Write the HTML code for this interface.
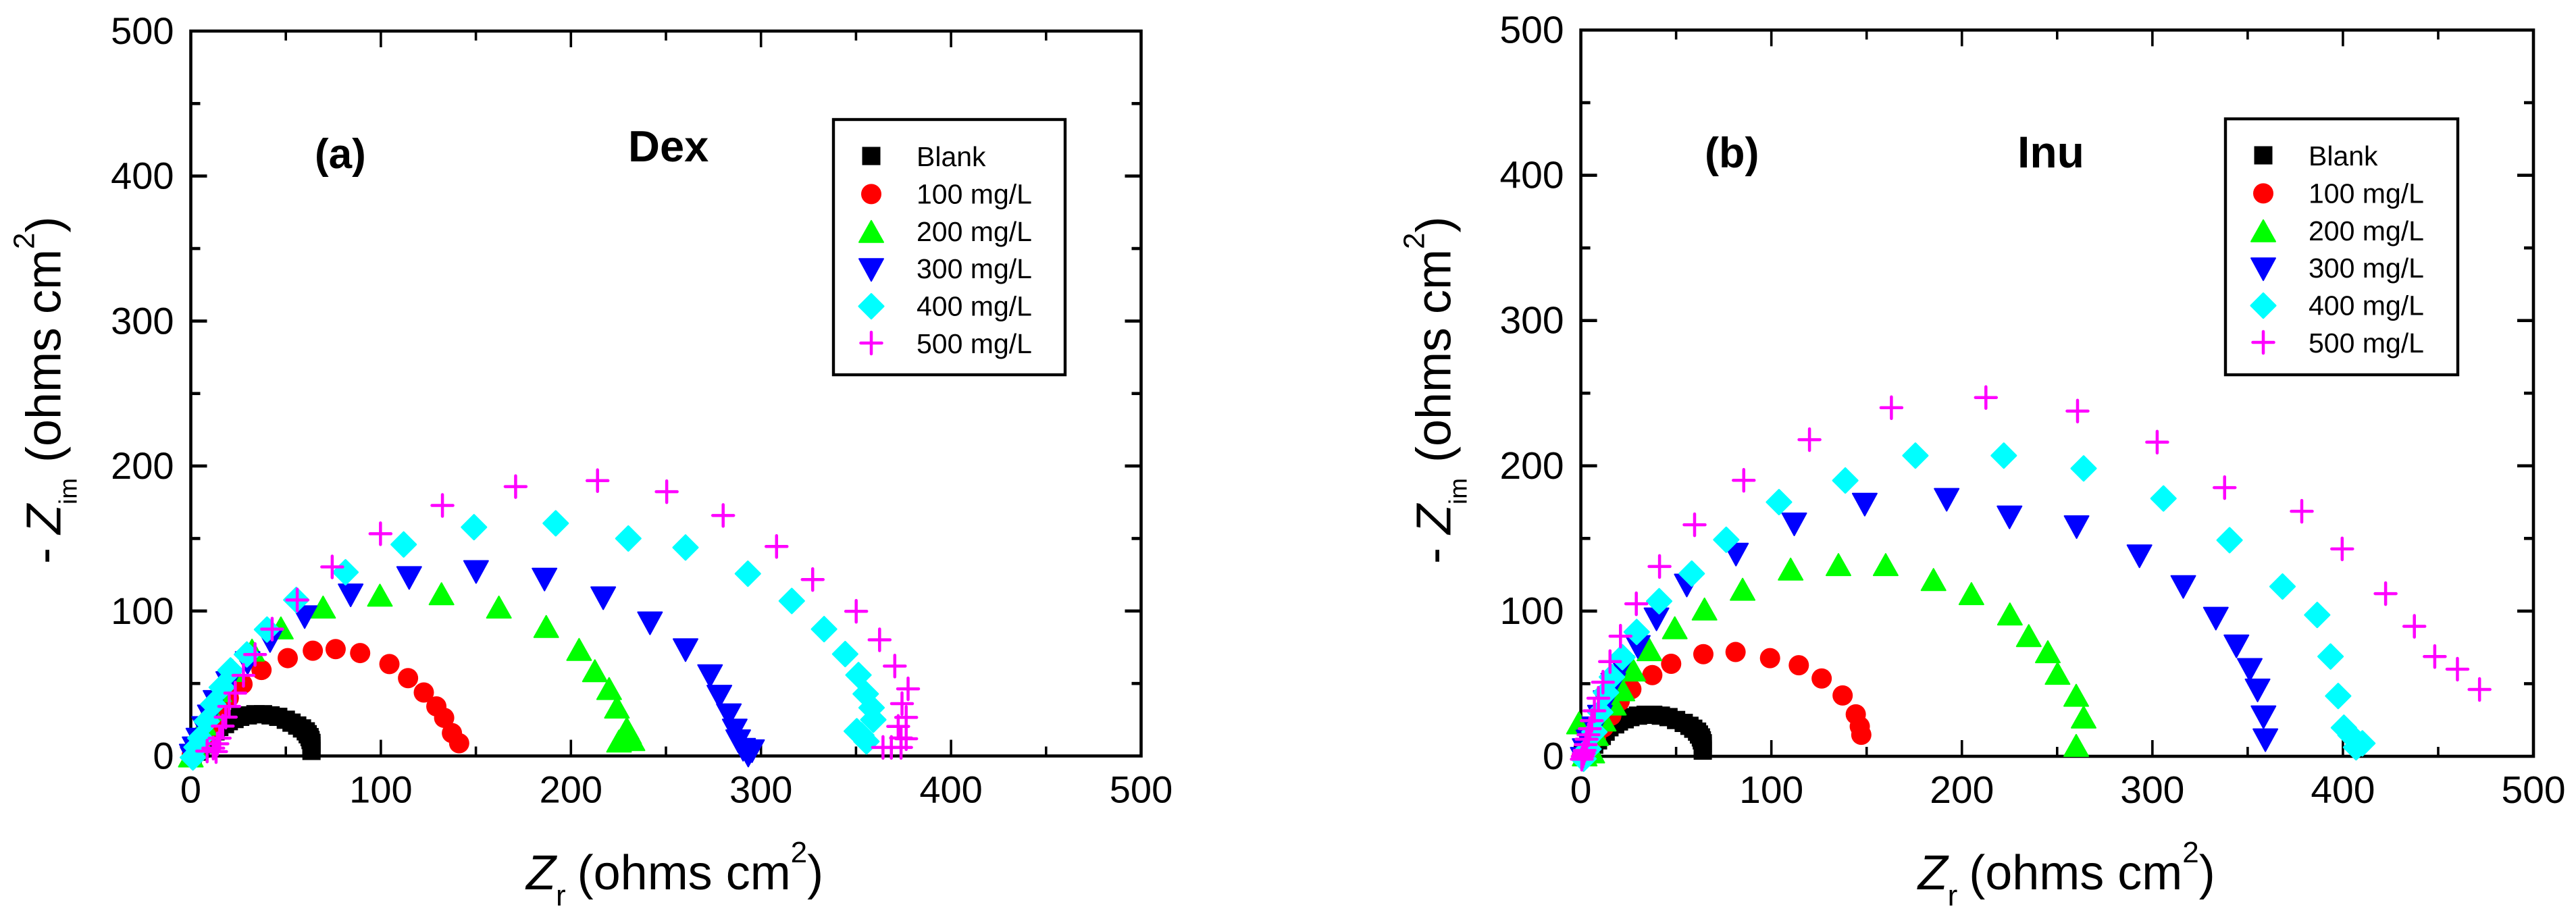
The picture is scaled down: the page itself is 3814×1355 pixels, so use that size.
<!DOCTYPE html>
<html lang="en">
<head>
<meta charset="utf-8">
<title>Nyquist plots for Dex and Inu</title>
<style>
html,body{margin:0;padding:0;background:#fff;width:3814px;height:1355px;overflow:hidden}
svg{display:block;font-family:"Liberation Sans",Arial,sans-serif}
</style>
</head>
<body>
<svg id="figure" xmlns="http://www.w3.org/2000/svg" width="3814" height="1355" viewBox="0 0 3814 1355"></svg>
<script>
const xTickValues = [0, 100, 200, 300, 400, 500];
const yTickValues = [0, 100, 200, 300, 400, 500];
const minorTickValues = [50, 150, 250, 350, 450];
const legendLabels = ['Blank', '100 mg/L', '200 mg/L', '300 mg/L', '400 mg/L', '500 mg/L'];

const dexBlankX = [63.5,63.5,63.5,63.5,63,62.5,61.5,60.5,58.5,56,53,50,46,42,38,34,30,26,23,20,18,15,13,11,9,7,5,3,1];
const dexBlankY = [3.5,5,7,9,11,13,15,17,19,21,23,25,27,28,28.8,28.8,28,27,25.5,24,22,20,17,14,11,8,5,3,1];
const dex100X = [141.2,137.4,133.3,129.2,122.6,114.3,104.5,89.1,76.2,64.2,51,37.2,27.2,20,15,11,8,5,3,1,0.5];
const dex100Y = [8.8,15.8,26.3,34.2,43.8,53.7,63.4,71,73.7,72.6,67.5,59.3,49.6,40,30,22,15,9,5,2,0.5];
const dex200X = [232.4,225.3,230.6,229.4,224.2,220.1,212.6,204.3,187,162.1,131.9,99.5,69.6,47.4,32.2,22,15,10,7,4,2,0];
const dex200Y = [11.3,10.3,16,19,33.7,46.5,58.8,73.5,89.3,102.7,111.9,110.9,102.7,88.3,73,59,45,32,22,13,6,0];
const dex300X = [295.3,293.3,290.6,288,286.2,283.1,278.1,273.2,260.3,241.6,217,186.1,150.1,114.9,84.1,59.9,41.7,29.9,19.7,13,10,7,4,2,0.5,1];
const dex300Y = [4,1,5,10.9,18.3,28.8,41.6,55.8,73.7,92.2,109.5,122.4,127.6,123.5,111.5,96.5,80,64.8,51,38,28,20,12,6,1,-1];
const dex400X = [355.5,352.8,350.4,359.1,358.2,355.1,351.3,344.3,333.2,316.2,293.1,260.3,230.2,192,149,112,81.4,55.5,40.1,29.5,20.9,16.3,11.8,8.4,5,3,1.1];
const dex400Y = [10,14.3,17.1,25,33.3,42.8,55.8,70.3,87.5,106.9,125.7,143.8,150,160.5,157.8,145.9,126.7,107.6,87.2,70,59,47.3,35.6,23.9,12.3,6,-1];
const dex500X = [364.2,368.6,373.7,376.4,373.7,372.2,376.4,374.2,377.4,370.4,362.4,350.1,327.2,308.2,280.1,250.4,214,170.9,132.4,99.8,74.4,56,42.8,33.8,27.7,23.4,20.2,18.4,16.8,15.2,14,13.3,11.8,8.6];
const dex500Y = [5.9,5.9,5.9,11.9,12.4,20.4,26.6,36.1,46.3,62,80.1,99.8,121.7,144.5,165.9,182.3,189.9,185.8,172.8,153.3,130.4,107.6,87.5,70,55.6,43.4,34.2,26.8,20.6,12.3,8.4,3,5.4,3.4];

const inuBlankX = [64,64,64,64,63.5,63,62,61,59,57,54,50,46,42,38,34,30,26,23,20,18,15,13,11,9,7,5,3,1];
const inuBlankY = [3.9,5,7,9,11,13,15,17,19,21,23,25,27,28,28.6,28.6,28,27,25.5,24,22,20,17,14,11,8,5,3,1];
const inu100X = [147.2,146.4,144.3,137.4,126.4,114.4,99.3,81.2,64.3,47.4,37.5,26.5,20.4,16,12,8,5,3,1,0.5];
const inu100Y = [14.8,20.6,28.9,41.9,53.6,62.7,67.6,71.8,70.3,63.7,55.9,46.2,38,28,20,13,8,4,1.5,0];
const inu200X = [260,263.9,260,250.2,245.1,235.1,225.2,205,185.1,160,135.2,110.1,84.9,64.9,49.3,36,27.5,21.8,17.3,12,8,-1,4,6,2];
const inu200Y = [7.5,27,42,57.1,72,83.1,98,112,121.7,132,132,128.9,115,101.4,88.5,73.4,59.4,45.8,36,25,15,23,8,3,1];
const inu300X = [359.3,358.3,355.2,351.1,344.1,333.3,316.2,293.2,260.2,225,192,149,112,81.4,55.6,39.7,29.9,21.4,17,13,10,7,4,2,1];
const inu300Y = [11.8,27.6,46.1,60.2,76.4,95.5,117.3,138.4,158.5,165.2,177.3,174,160.4,139.6,118.3,95,76,62.3,50,38,28,20,11,5,-1];
const inu400X = [404,410.2,406.9,400.5,397.5,393.5,386.5,368.3,340.5,305.8,263.9,222,175.6,138.8,104,76.3,58.2,41.1,29.3,21.8,16.3,13.2,10.2,7.1,4,1.4];
const inu400Y = [14.5,8.9,6.2,19.7,41.5,68.7,97.3,116.9,148.8,177.5,198.2,207,207,189.9,175,149.1,125.8,106.8,85.6,68.2,54.6,43.9,30.3,16.7,5,-1.7];
const inu500X = [471.7,460.1,448.2,437.5,422.4,399.6,378.4,337.9,302.5,260.7,212.6,163,120,85.5,59.7,41.3,29.1,20.8,15.3,11.6,9.2,7.1,5.7,4.7,4,3,2.6,2,1.5,1,0.5];
const inu500Y = [46,60,68.7,89.5,112,142.8,168.7,185,216.3,237.7,247,240,218,190,159.4,130.7,105,82.7,65.2,51,40,31.3,24.5,19,14.8,11.8,8,4,2,0,-2];

const NS = 'http://www.w3.org/2000/svg';
const root = document.getElementById('figure');

function mk(parent, tag, attrs) {
  const el = document.createElementNS(NS, tag);
  for (const k in attrs) el.setAttribute(k, attrs[k]);
  parent.appendChild(el);
  return el;
}

const seriesStyles = [
  {kind: 'square', color: '#000000', key: 'blank'},
  {kind: 'circle', color: '#ff0000', key: '100'},
  {kind: 'up', color: '#00ff00', key: '200'},
  {kind: 'down', color: '#0000ff', key: '300'},
  {kind: 'diamond', color: '#00ffff', key: '400'},
  {kind: 'plus', color: '#ff00ff', key: '500'}
];

function drawMarker(parent, kind, color, cx, cy) {
  let el;
  if (kind === 'square') {
    el = mk(parent, 'rect', {x: cx - 13.5, y: cy - 13.5, width: 27, height: 27, fill: color});
  } else if (kind === 'circle') {
    el = mk(parent, 'circle', {cx: cx, cy: cy, r: 15, fill: color});
  } else if (kind === 'up') {
    el = mk(parent, 'path', {d: `M${cx} ${cy - 16}L${cx + 18} ${cy + 16}L${cx - 18} ${cy + 16}Z`, fill: color, stroke: color, 'stroke-width': 2, 'stroke-linejoin': 'round'});
  } else if (kind === 'down') {
    el = mk(parent, 'path', {d: `M${cx} ${cy + 18}L${cx + 18} ${cy - 15}L${cx - 18} ${cy - 15}Z`, fill: color, stroke: color, 'stroke-width': 2, 'stroke-linejoin': 'round'});
  } else if (kind === 'diamond') {
    el = mk(parent, 'path', {d: `M${cx} ${cy - 18}L${cx + 18} ${cy}L${cx} ${cy + 18}L${cx - 18} ${cy}Z`, fill: color, stroke: color, 'stroke-width': 3, 'stroke-linejoin': 'round'});
  } else {
    el = mk(parent, 'path', {d: `M${cx - 15.5} ${cy}H${cx + 15.5}M${cx} ${cy - 16}V${cy + 16}`, fill: 'none', stroke: color, 'stroke-width': 4.5, 'stroke-linecap': 'round'});
  }
  return el;
}

function drawPanel(cfg) {
  const g = mk(root, 'g', {});
  
  
  const sx = v => cfg.x0 + (v / 500) * (cfg.x1 - cfg.x0);
  const sy = v => cfg.y0 - (v / 500) * (cfg.y0 - cfg.y1);

  const frame = mk(g, 'rect', {x: cfg.x0, y: cfg.y1, width: cfg.x1 - cfg.x0, height: cfg.y0 - cfg.y1, fill: 'none', stroke: '#000', 'stroke-width': 4.6});
  
  

  const ticks = mk(g, 'g', {stroke: '#000', fill: 'none'});
  
  
  const addTicks = (vals, len) => {
    vals.forEach(v => {
      mk(ticks, 'line', {x1: sx(v), x2: sx(v), y1: cfg.y0, y2: cfg.y0 - len, 'stroke-width': 3.6});
      mk(ticks, 'line', {x1: sx(v), x2: sx(v), y1: cfg.y1, y2: cfg.y1 + len, 'stroke-width': 3.6});
      mk(ticks, 'line', {x1: cfg.x0, x2: cfg.x0 + len, y1: sy(v), y2: sy(v), 'stroke-width': 4.6});
      mk(ticks, 'line', {x1: cfg.x1, x2: cfg.x1 - len, y1: sy(v), y2: sy(v), 'stroke-width': 4.6});
    });
  };
  addTicks(xTickValues.slice(1, -1), 24);
  addTicks(minorTickValues, 14);

  xTickValues.forEach(v => {
    const t = mk(g, 'text', {x: sx(v), y: cfg.y0 + 69, 'font-size': cfg.tickFont, 'text-anchor': 'middle', fill: '#000'});
    
    
    t.textContent = v;
  });
  yTickValues.forEach(v => {
    const t = mk(g, 'text', {x: cfg.x0 - 25, y: sy(v) + 19, 'font-size': cfg.tickFont, 'text-anchor': 'end', fill: '#000'});
    
    
    t.textContent = v;
  });

  const xt = mk(g, 'text', {x: cfg.x0 + cfg.xTitleOffset, y: 1317, 'font-size': 72, fill: '#000'});
  
  
  mk(xt, 'tspan', {'font-style': 'italic'}).textContent = 'Z';
  mk(xt, 'tspan', {dy: 24, 'font-size': 44}).textContent = 'r';
  mk(xt, 'tspan', {dy: -24, dx: -3}).textContent = '\u00a0(ohms cm';
  mk(xt, 'tspan', {dy: -40, 'font-size': 44}).textContent = '2';
  mk(xt, 'tspan', {dy: 40}).textContent = ')';

  const yt = mk(g, 'text', {transform: `translate(${cfg.x0 - 193},835) rotate(-90)`, 'font-size': 72, fill: '#000'});
  
  
  mk(yt, 'tspan', {}).textContent = '-\u00a0';
  mk(yt, 'tspan', {'font-style': 'italic'}).textContent = 'Z';
  mk(yt, 'tspan', {dy: 24, 'font-size': 37}).textContent = 'im';
  mk(yt, 'tspan', {dy: -24, dx: 3}).textContent = '\u00a0(ohms cm';
  mk(yt, 'tspan', {dy: -39, 'font-size': 44}).textContent = '2';
  mk(yt, 'tspan', {dy: 39}).textContent = ')';

  const pl = mk(g, 'text', {x: cfg.panelLabel.x, y: cfg.panelLabel.y, 'font-size': cfg.panelLabel.size, 'font-weight': 'bold', fill: '#000'});
  
  
  pl.textContent = cfg.panelLabel.text;
  const ct = mk(g, 'text', {x: cfg.compound.x, y: cfg.compound.y, 'font-size': cfg.compound.size, 'font-weight': 'bold', fill: '#000'});
  
  
  ct.textContent = cfg.compound.text;

  cfg.series.forEach((s, i) => {
    const st = seriesStyles[i];
    const sg = mk(g, 'g', {});
    
    
    s.x.forEach((xv, j) => {
      const m = drawMarker(sg, st.kind, st.color, sx(xv), sy(s.y[j]));
      
      
    });
  });

  const lg = mk(g, 'g', {});
  
  
  const lb = mk(lg, 'rect', {x: cfg.legend.x, y: cfg.legend.y, width: cfg.legend.w, height: cfg.legend.h, fill: '#fff', stroke: '#000', 'stroke-width': 4.4});
  
  
  legendLabels.forEach((label, i) => {
    const st = seriesStyles[i];
    const rowY = cfg.legend.y + 54 + i * 55.4;
    const m = drawMarker(lg, st.kind, st.color, cfg.legend.x + 56, rowY + (i === 5 ? -1 : 0) + (i === 0 ? 0 : 1));
    
    
    const t = mk(lg, 'text', {x: cfg.legend.x + 123, y: rowY + 15, 'font-size': 41, fill: '#000'});
    
    
    t.textContent = label;
  });
}

drawPanel({
  name: 'panel-a-dex', x0: 282.5, x1: 1689.5, y0: 1119.5, y1: 46, tickFont: 56, xTitleOffset: 496.5,
  panelLabel: {text: '(a)', x: 466, y: 249, size: 62},
  compound: {text: 'Dex', x: 930, y: 239, size: 65},
  legend: {x: 1234, y: 177, w: 343, h: 378},
  series: [
    {x: dexBlankX, y: dexBlankY}, {x: dex100X, y: dex100Y}, {x: dex200X, y: dex200Y},
    {x: dex300X, y: dex300Y}, {x: dex400X, y: dex400Y}, {x: dex500X, y: dex500Y}
  ]
});
drawPanel({
  name: 'panel-b-inu', x0: 2340.6, x1: 3751, y0: 1120, y1: 44.5, tickFont: 57, xTitleOffset: 499,
  panelLabel: {text: '(b)', x: 2524, y: 248, size: 63},
  compound: {text: 'Inu', x: 2987, y: 248, size: 66},
  legend: {x: 3295, y: 176, w: 344, h: 379},
  series: [
    {x: inuBlankX, y: inuBlankY}, {x: inu100X, y: inu100Y}, {x: inu200X, y: inu200Y},
    {x: inu300X, y: inu300Y}, {x: inu400X, y: inu400Y}, {x: inu500X, y: inu500Y}
  ]
});
</script>
</body>
</html>
